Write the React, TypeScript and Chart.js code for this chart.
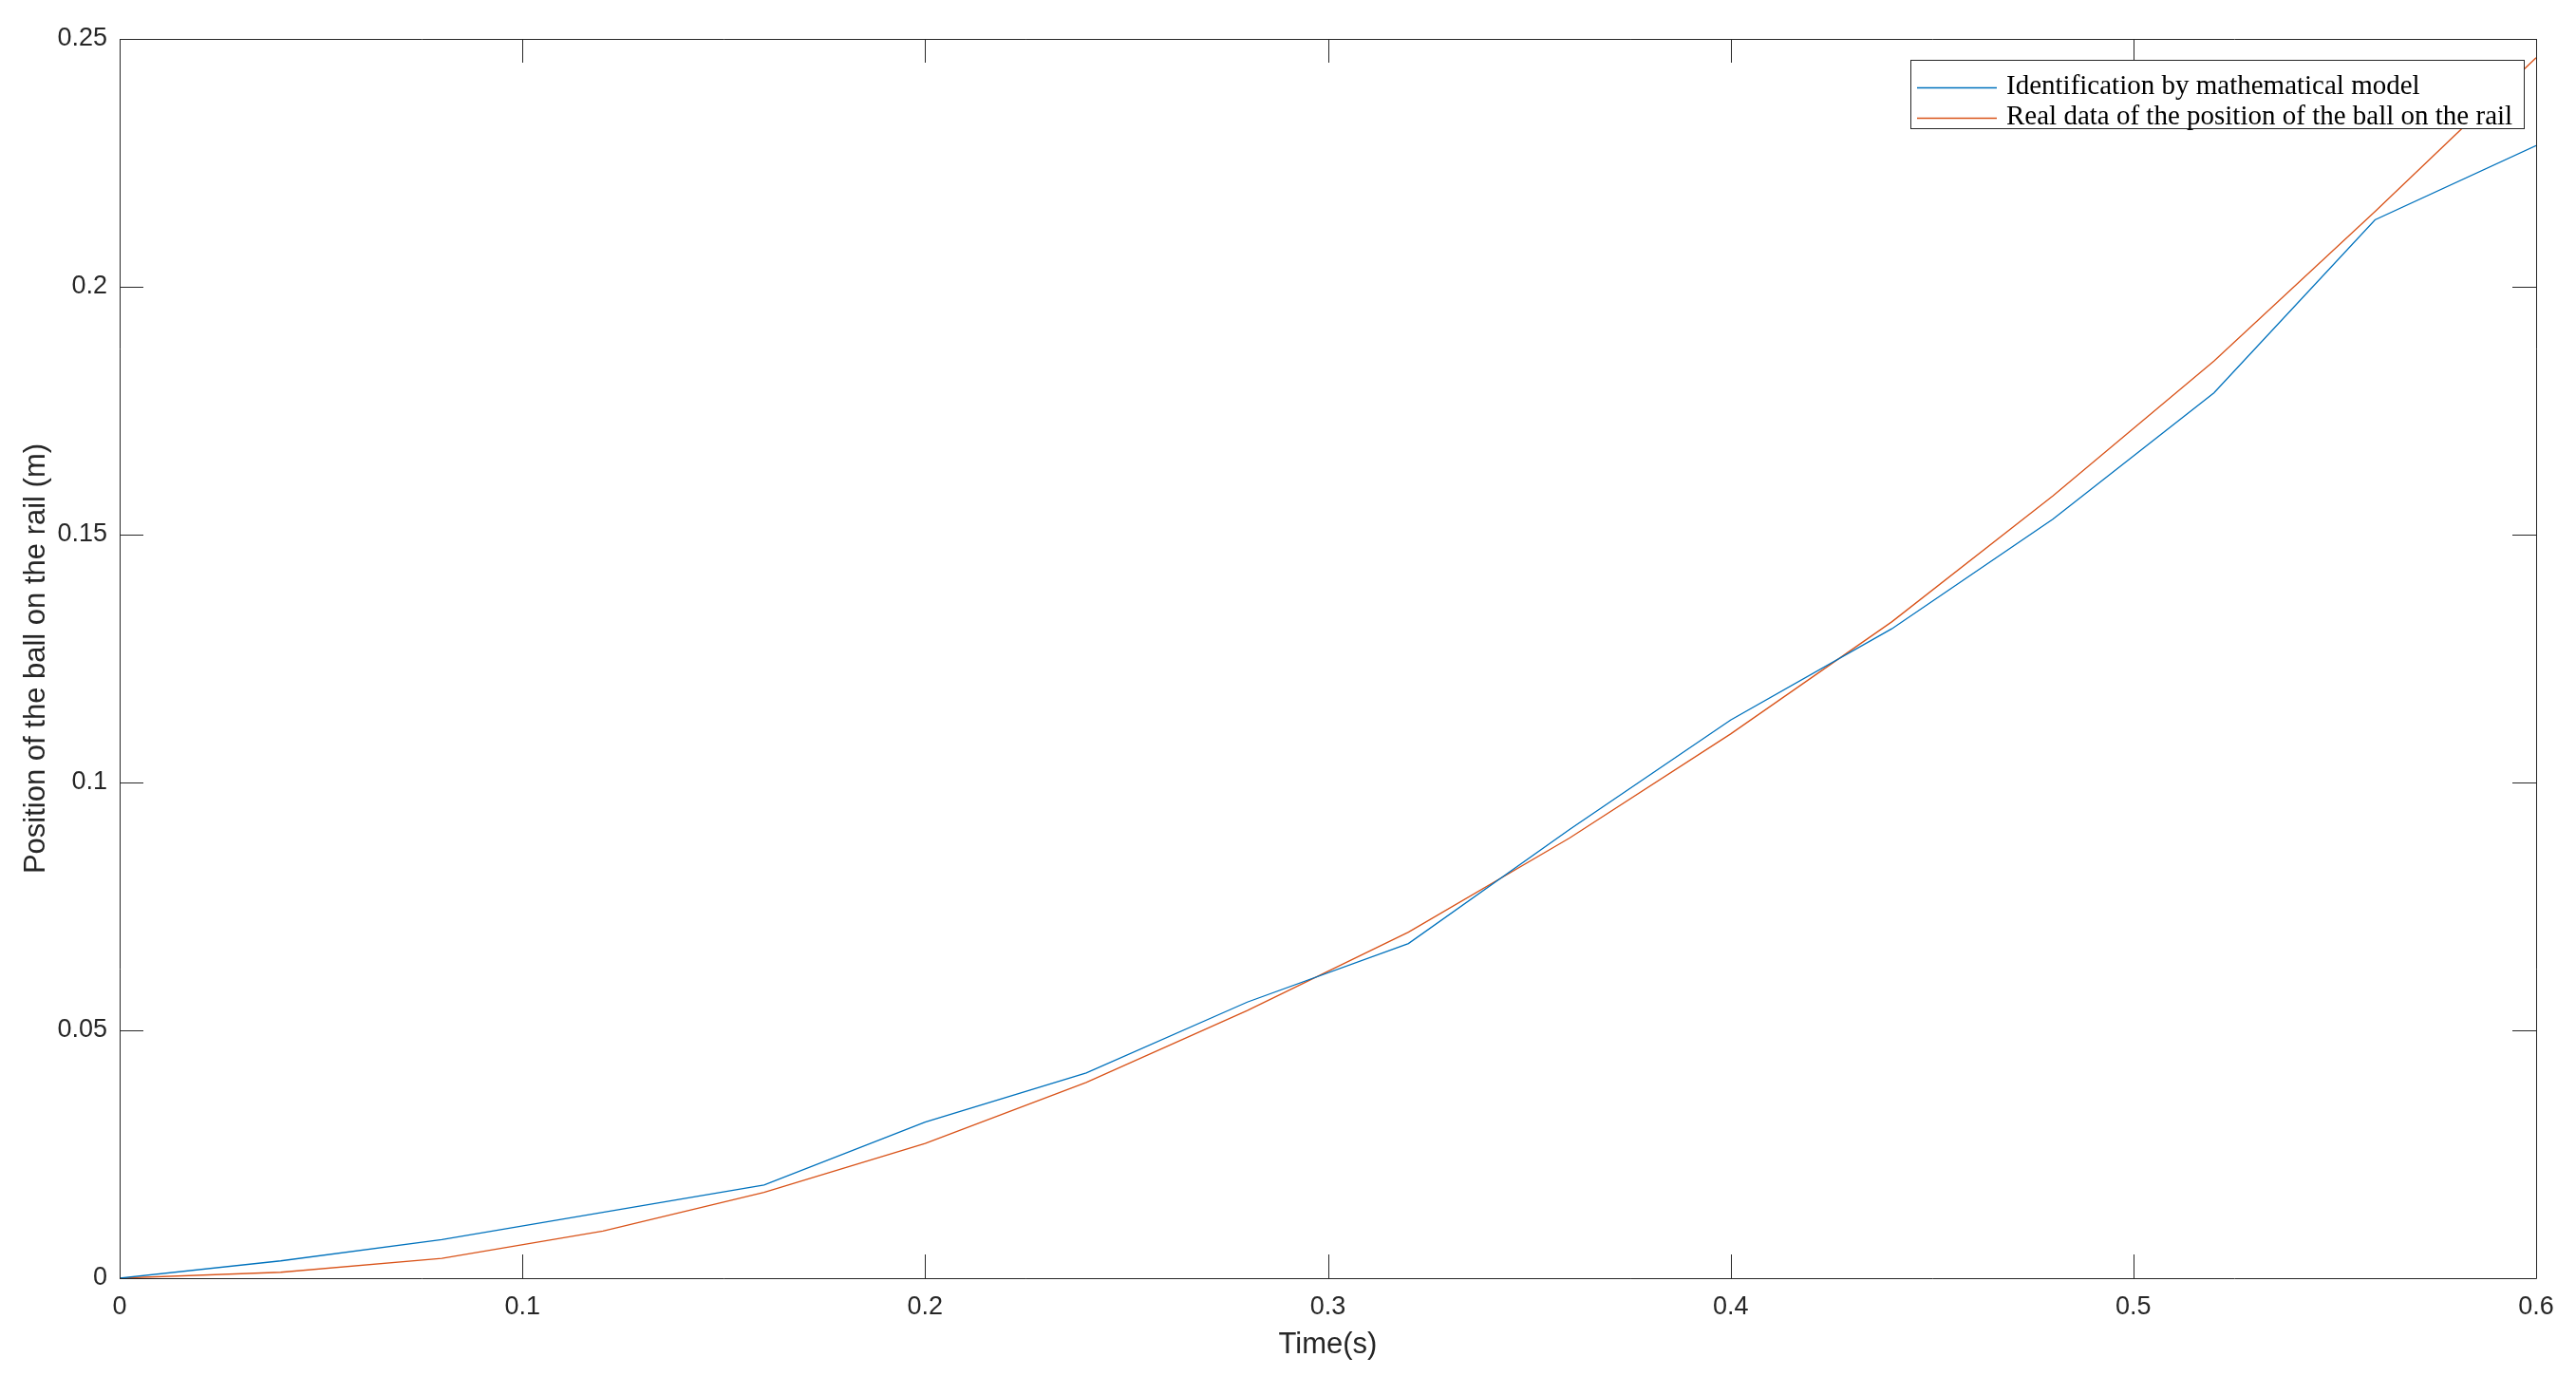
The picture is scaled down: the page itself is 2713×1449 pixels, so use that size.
import React, { useEffect, useRef } from "react";
import { Chart, registerables } from "chart.js";

Chart.register(...registerables);

const timeValues = [0, 0.04, 0.08, 0.12, 0.16, 0.2, 0.24, 0.28, 0.32, 0.36, 0.4, 0.44, 0.48, 0.52, 0.56, 0.6];
const modelValues = [0, 0.0035, 0.0078, 0.0133, 0.0188, 0.0315, 0.0414, 0.0557, 0.0675, 0.0905, 0.1126, 0.131, 0.1531, 0.1786, 0.2135, 0.2285];
const realValues = [0, 0.0012, 0.004, 0.0095, 0.0173, 0.0272, 0.0395, 0.054, 0.0698, 0.0888, 0.1098, 0.1324, 0.1578, 0.185, 0.2152, 0.2462];
const seriesLabels = ["Identification by mathematical model", "Real data of the position of the ball on the rail"];
const seriesColors = ["#0072BD", "#D95319"];
const xTicks = [0, 0.1, 0.2, 0.3, 0.4, 0.5, 0.6];
const yTicks = [0, 0.05, 0.1, 0.15, 0.2, 0.25];
const xTitle = "Time(s)";
const yTitle = "Position of the ball on the rail (m)";

const AXIS_COLOR = "#262626";
const TICK_LEN = 25;

const frameAndLegend = {
  id: "frameAndLegend",
  afterDraw(chart: any) {
    const ctx = chart.ctx;
    const { left, right, top, bottom } = chart.chartArea;
    const xs = chart.scales.x;
    const ys = chart.scales.y;
    ctx.save();
    ctx.strokeStyle = AXIS_COLOR;
    ctx.lineWidth = 1;
    ctx.beginPath();
    ctx.rect(Math.round(left) + 0.5, Math.round(top) + 0.5, Math.round(right - left), Math.round(bottom - top));
    ctx.stroke();
    ctx.beginPath();
    xTicks.forEach((v) => {
      const px = Math.round(xs.getPixelForValue(v)) + 0.5;
      ctx.moveTo(px, bottom);
      ctx.lineTo(px, bottom - TICK_LEN);
      ctx.moveTo(px, top);
      ctx.lineTo(px, top + TICK_LEN);
    });
    yTicks.forEach((v) => {
      const py = Math.round(ys.getPixelForValue(v)) + 0.5;
      ctx.moveTo(left, py);
      ctx.lineTo(left + TICK_LEN, py);
      ctx.moveTo(right, py);
      ctx.lineTo(right - TICK_LEN, py);
    });
    ctx.stroke();

    // legend
    const boxRight = right - 13;
    const boxLeft = 2012;
    const boxTop = 63;
    const rowH = 32;
    const boxBottom = boxTop + 72;
    ctx.fillStyle = "#ffffff";
    ctx.fillRect(boxLeft, boxTop, boxRight - boxLeft, boxBottom - boxTop);
    ctx.strokeStyle = AXIS_COLOR;
    ctx.lineWidth = 1;
    ctx.strokeRect(boxLeft + 0.5, boxTop + 0.5, boxRight - boxLeft, boxBottom - boxTop);
    ctx.font = "29px 'Liberation Serif', serif";
    ctx.textBaseline = "alphabetic";
    ctx.textAlign = "left";
    seriesLabels.forEach((label, i) => {
      const ly = boxTop + 29 + i * rowH + 0.5;
      ctx.strokeStyle = seriesColors[i];
      ctx.lineWidth = 1.3;
      ctx.beginPath();
      ctx.moveTo(boxLeft + 7, ly);
      ctx.lineTo(boxLeft + 91, ly);
      ctx.stroke();
      ctx.fillStyle = "#000000";
      ctx.fillText(label, boxLeft + 101, ly + 6.5);
    });
    ctx.restore();
  },
};

export default function App() {
  const canvasRef = useRef<HTMLCanvasElement | null>(null);

  useEffect(() => {
    const canvas = canvasRef.current;
    if (!canvas) return;
    const chart = new Chart(canvas, {
      type: "line",
      data: {
        datasets: [
          {
            label: seriesLabels[0],
            data: timeValues.map((t, i) => ({ x: t, y: modelValues[i] })),
            borderColor: seriesColors[0],
            backgroundColor: seriesColors[0],
            borderWidth: 1.3,
            pointRadius: 0,
            tension: 0,
            fill: false,
          },
          {
            label: seriesLabels[1],
            data: timeValues.map((t, i) => ({ x: t, y: realValues[i] })),
            borderColor: seriesColors[1],
            backgroundColor: seriesColors[1],
            borderWidth: 1.3,
            pointRadius: 0,
            tension: 0,
            fill: false,
          },
        ],
      },
      options: {
        responsive: false,
        animation: false,
        layout: { padding: { left: 0, top: 41, right: 42, bottom: 0 } },
        plugins: {
          legend: { display: false },
          tooltip: { enabled: false },
        },
        scales: {
          x: {
            type: "linear",
            min: 0,
            max: 0.6,
            afterBuildTicks: (scale: any) => {
              scale.ticks = xTicks.map((v) => ({ value: v }));
            },
            afterFit: (scale: any) => {
              scale.height = 103;
            },
            grid: { display: false, drawTicks: false },
            border: { display: false },
            ticks: {
              color: AXIS_COLOR,
              font: { family: "'Liberation Sans', Arial, sans-serif", size: 27 },
              padding: 14,
              maxRotation: 0,
              autoSkip: false,
              callback: (v: any) => String(Math.round(Number(v) * 100) / 100),
            },
            title: {
              display: true,
              text: xTitle,
              color: AXIS_COLOR,
              font: { family: "'Liberation Sans', Arial, sans-serif", size: 31 },
              padding: { top: 0, bottom: 14 },
            },
          },
          y: {
            type: "linear",
            min: 0,
            max: 0.25,
            afterBuildTicks: (scale: any) => {
              scale.ticks = yTicks.map((v) => ({ value: v }));
            },
            afterFit: (scale: any) => {
              scale.width = 126;
            },
            grid: { display: false, drawTicks: false },
            border: { display: false },
            ticks: {
              color: AXIS_COLOR,
              font: { family: "'Liberation Sans', Arial, sans-serif", size: 27 },
              padding: 13,
              autoSkip: false,
              callback: (v: any) => String(Math.round(Number(v) * 100) / 100),
            },
            title: {
              display: true,
              text: yTitle,
              color: AXIS_COLOR,
              font: { family: "'Liberation Sans', Arial, sans-serif", size: 31 },
              padding: { top: 20, bottom: 0 },
            },
          },
        },
      },
      plugins: [frameAndLegend],
    });
    return () => chart.destroy();
  }, []);

  return (
    <div style={{ position: "fixed", left: 0, top: 0, width: 2713, height: 1449, background: "#ffffff" }}>
      <canvas ref={canvasRef} width={2713} height={1449} style={{ display: "block", width: 2713, height: 1449 }} />
    </div>
  );
}
